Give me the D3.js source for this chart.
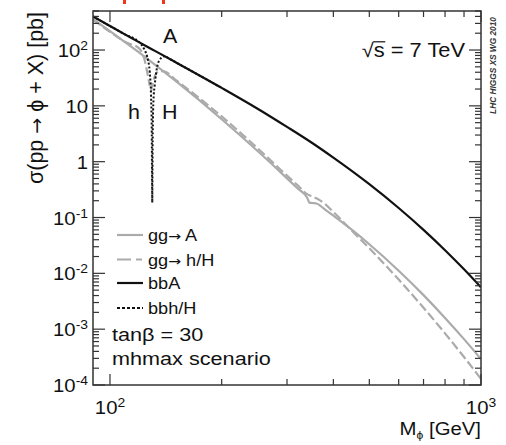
<!DOCTYPE html>
<html>
<head>
<meta charset="utf-8">
<script src="https://cdn.jsdelivr.net/npm/d3@7"></script>
<style>
  body { margin: 0; background: #fff; }
  text { font-family: "Liberation Sans", Arial, Helvetica, sans-serif; }
  .arrow { font-family: "DejaVu Sans", sans-serif; }
</style>
</head>
<body>
<script>
// masses in GeV, cross sections in pb
var massBbA = [90, 100, 110, 120, 130, 150, 200, 250, 300, 350, 400, 500, 600, 700, 800, 900, 1000]
var sigBbA  = [400, 269, 189, 137, 102.5, 60.9, 21.0, 8.89, 4.2, 2.18, 1.18, 0.395, 0.148, 0.0601, 0.026, 0.01184, 0.00562]

var massBbh = [90, 100, 110, 120, 124, 126, 128, 129, 129.6, 129.8, 130]
var sigBbh  = [400, 269, 189, 137, 100, 75, 40, 15.7, 3.3, 0.72, 0.186]
var massBbH = [130, 130.2, 130.4, 131, 132, 134, 136, 140, 145, 150, 200]
var sigBbH  = [0.186, 0.72, 3.3, 12.8, 23.5, 50, 66, 77, 69, 60.9, 21.0]

var massGgA = [90, 100, 110, 120, 130, 150, 200, 250, 300, 320, 340, 345, 350, 360, 380, 400, 450, 500, 600, 700, 800, 900, 1000]
var sigGgA  = [358, 218, 137.7, 89.5, 59.6, 28.2, 5.76, 1.55, 0.503, 0.334, 0.2265, 0.185, 0.182, 0.1785, 0.1387, 0.1082, 0.0592, 0.0332, 0.01115, 0.00407, 0.00159, 0.000663, 0.000291]

var massGgh = [90, 100, 110, 120, 124, 126, 128]
var sigGgh  = [350, 212, 139, 106, 66, 40, 22.8]
var massGgH = [129, 131, 134, 136, 140, 150, 200, 250, 300, 320, 340, 350, 360, 380, 400, 450, 500, 600, 700, 800, 900, 1000]
var sigGgH  = [17.8, 29, 40, 42, 41.5, 29.5, 6.46, 1.74, 0.562, 0.38, 0.263, 0.24, 0.221, 0.174, 0.126, 0.0569, 0.0281, 0.00775, 0.00242, 0.00084, 0.000317, 0.000128]

var xTickVals = [100, 200, 300, 400, 500, 600, 700, 800, 900, 1000]
var yLabelExp = [2, 1, 0, -1, -2, -3, -4]

var legendLabels = [["gg", "A"], ["gg", "h/H"], ["bbA"], ["bbh/H"]]

var W = 506, H = 445
var L = 93, R = 481, T = 11, B = 385
var GREY = "#ababab", BLACK = "#111", FRAME = "#333"

var svg = d3.select("body").append("svg").attr("width", W).attr("height", H)

var x = d3.scaleLog().domain([90, 1000]).range([L, R])
var y = d3.scaleLog().domain([1e-4, 500]).range([B, T])

// bits of a red title cut off at the top
svg.append("rect").attr("x", 123).attr("y", 0).attr("width", 3).attr("height", 4).attr("fill", "#f5341a")
svg.append("rect").attr("x", 162).attr("y", 0).attr("width", 3).attr("height", 4).attr("fill", "#f5341a")

svg.append("clipPath").attr("id", "plot").append("rect")
  .attr("x", L).attr("y", T).attr("width", R - L).attr("height", B - T)

var line = d3.line().x(function(d){ return x(d[0]) }).y(function(d){ return y(d[1]) })
  .curve(d3.curveMonotoneX)

var curves = svg.append("g").attr("clip-path", "url(#plot)").attr("fill", "none")

function drawCurve(mass, sig, color, width, dash){
  var p = curves.append("path").datum(d3.zip(mass, sig))
    .attr("d", line).attr("stroke", color).attr("stroke-width", width)
  if(dash) p.attr("stroke-dasharray", dash)
  return p
}

drawCurve(massGgA, sigGgA, GREY, 2.2)
drawCurve(massGgh, sigGgh, GREY, 2.2, "9,3.5")
drawCurve(massGgH, sigGgH, GREY, 2.2, "9,3.5")
drawCurve(massBbh, sigBbh, BLACK, 2, "2,2")
drawCurve(massBbH, sigBbH, BLACK, 2, "2,2")
drawCurve(massBbA, sigBbA, BLACK, 2.2)

// frame + ticks
svg.append("rect").attr("x", L).attr("y", T).attr("width", R - L).attr("height", B - T)
  .attr("fill", "none").attr("stroke", FRAME).attr("stroke-width", 1.5)

var ticks = svg.append("g").attr("stroke", FRAME).attr("stroke-width", 1.2)
xTickVals.forEach(function(v){
  var major = (v == 100 || v == 1000)
  var len = major ? 11 : 6
  var px = x(v)
  ticks.append("line").attr("x1", px).attr("x2", px).attr("y1", B).attr("y2", B - len)
  ticks.append("line").attr("x1", px).attr("x2", px).attr("y1", T).attr("y2", T + len)
})
y.ticks().filter(function(v){ return v >= 1e-4 && v <= 500 }).forEach(function(v){
  var lg = Math.log10(v)
  var major = Math.abs(lg - Math.round(lg)) < 1e-6
  var len = major ? 12 : 6
  var py = y(v)
  ticks.append("line").attr("x1", L).attr("x2", L + len).attr("y1", py).attr("y2", py)
  ticks.append("line").attr("x1", R).attr("x2", R - len).attr("y1", py).attr("y2", py)
})

// text helper: image looks a bit stretched horizontally, so scale glyphs in x
function label(px, py, fs, sx, anchor){
  var g = svg.append("g").attr("transform", "translate(" + px + "," + py + ") scale(" + sx + ",1)")
  return g.append("text").attr("font-size", fs).attr("text-anchor", anchor || "start").attr("fill", BLACK)
}

function powLabel(t, e){
  if(e == 0){ t.text("1"); return }
  if(e == 1){ t.text("10"); return }
  t.append("tspan").text("10")
  t.append("tspan").attr("font-size", 13).attr("dy", -7).text(String(e))
}

yLabelExp.forEach(function(e){
  var t = label(88, y(Math.pow(10, e)) + 7, 19, 1.07, "end")
  powLabel(t, e)
})

powLabel(label(110, 414, 19, 1.07, "middle"), 2)
powLabel(label(481, 414, 19, 1.07, "middle"), 3)

// axis titles
var yt = svg.append("text").attr("transform", "translate(43,98) rotate(-90)")
  .attr("text-anchor", "middle").attr("font-size", 21.5).attr("fill", BLACK)
yt.append("tspan").text("\u03c3(pp ")
yt.append("tspan").attr("class", "arrow").attr("font-size", 19).text("\u2192")
yt.append("tspan").text(" \u03d5 + X) [pb]")

var xt = label(481, 435, 18.5, 1.1, "end")
xt.append("tspan").text("M")
xt.append("tspan").attr("font-size", 11).attr("dy", 4).text("\u03d5")
xt.append("tspan").attr("dy", -4).text("  [GeV]")

// sqrt(s) = 7 TeV with a bar over the s
var sq = label(465, 57, 19.5, 1.12, "end").text("\u221as = 7 TeV")
var n = sq.node()
var s1 = n.getEndPositionOfChar(1).x
d3.select(n.parentNode).append("line")
  .attr("x1", n.getEndPositionOfChar(0).x - 0.5).attr("x2", s1 + 0.5)
  .attr("y1", -15.2).attr("y2", -15.2)
  .attr("stroke", BLACK).attr("stroke-width", 1.2)

label(163, 43, 19.5, 1.1).text("A")
label(128, 119, 19.5, 1.1).text("h")
label(162, 119, 19.5, 1.1).text("H")

// legend
var legendY = [235, 259.5, 283, 308]
var legendStyle = [
  {color: GREY, dash: null, w: 2.2},
  {color: GREY, dash: "14,5,6,100", w: 2.2},
  {color: BLACK, dash: null, w: 2.2},
  {color: BLACK, dash: "3,2", w: 2}
]
legendLabels.forEach(function(parts, i){
  var st = legendStyle[i]
  var ln = svg.append("line").attr("x1", 117).attr("x2", 143)
    .attr("y1", legendY[i]).attr("y2", legendY[i])
    .attr("stroke", st.color).attr("stroke-width", st.w)
  if(st.dash) ln.attr("stroke-dasharray", st.dash)
  var t = label(148, legendY[i] + 6, 16.5, 1.1)
  t.append("tspan").text(parts[0])
  if(parts.length > 1){
    t.append("tspan").attr("class", "arrow").attr("font-size", 14).text("\u2192")
    t.append("tspan").text(" " + parts[1])
  }
})

label(112, 341, 18.5, 1.17).text("tan\u03b2 = 30")
label(112, 365, 18.5, 1.17).text("mhmax scenario")

svg.append("text").attr("transform", "translate(496,65.5) rotate(-90)")
  .attr("text-anchor", "middle").attr("font-size", 8.3)
  .attr("font-weight", "bold").attr("font-style", "italic").attr("fill", "#333")
  .text("LHC HIGGS XS WG 2010")
</script>
</body>
</html>
